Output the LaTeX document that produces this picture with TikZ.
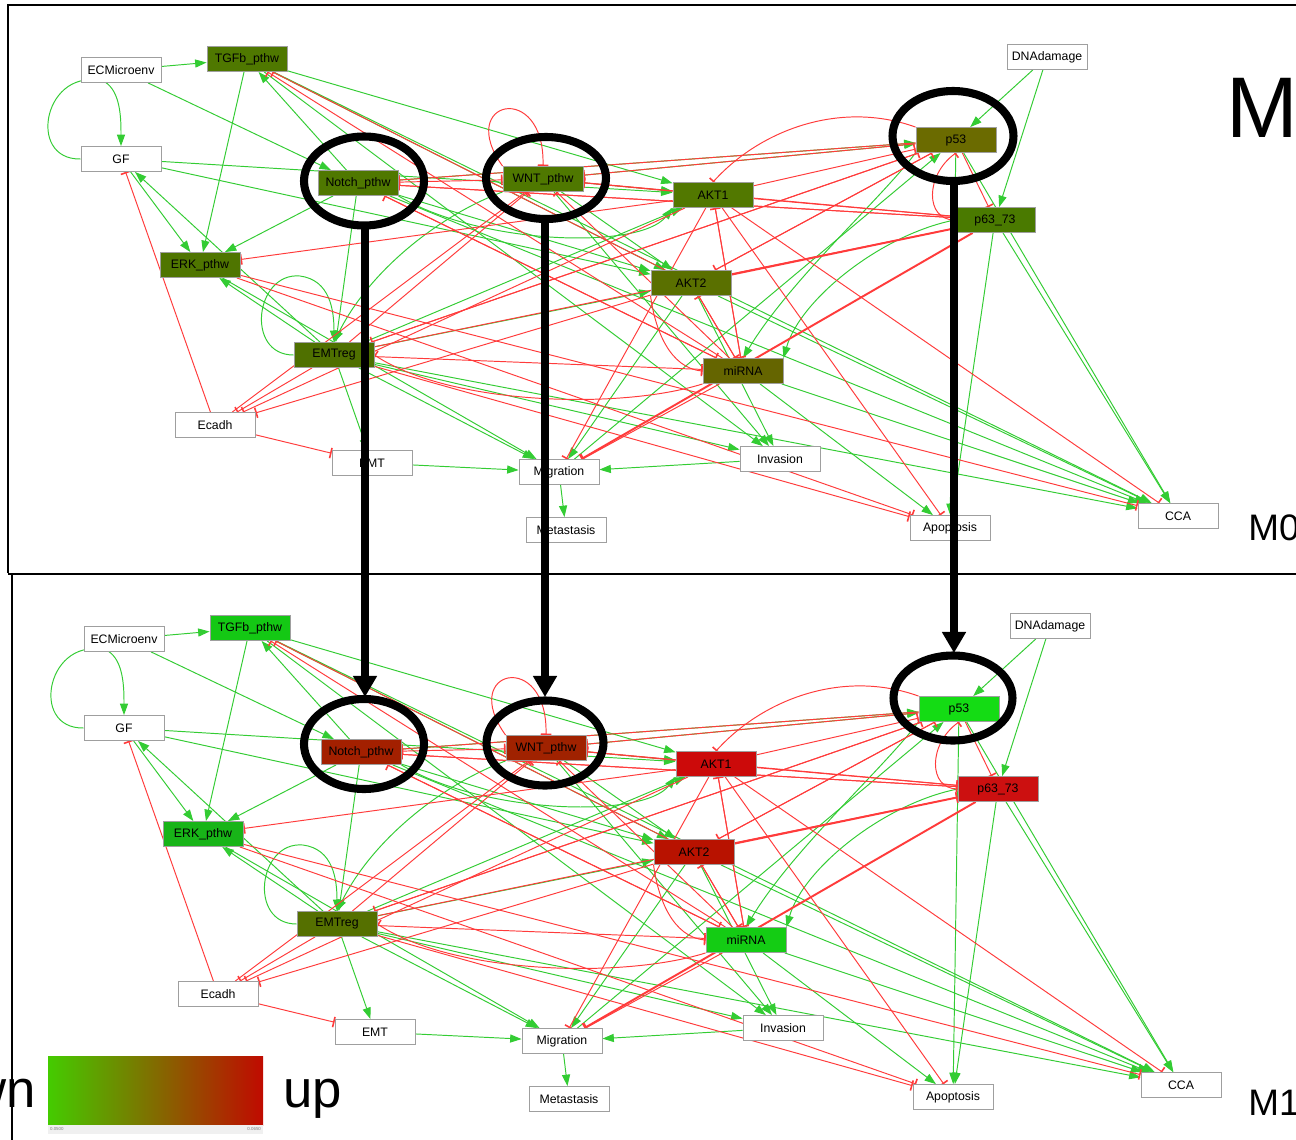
\documentclass[tikz,border=0pt]{standalone}
\usepackage{fontspec}
\setmainfont{Liberation Sans}
\usetikzlibrary{arrows.meta,calc}
\pgfdeclarelayer{bg}
\pgfdeclarelayer{edges}
\pgfsetlayers{bg,edges,main}

\definecolor{actg}{HTML}{33CC33}
\definecolor{inhr}{HTML}{FF3B3B}
% top panel node colours
\definecolor{tTGFB}{HTML}{4F7800}
\definecolor{tNOTCH}{HTML}{4F7800}
\definecolor{tWNT}{HTML}{4F7800}
\definecolor{tAKTA}{HTML}{527800}
\definecolor{tPFT}{HTML}{6B6B00}
\definecolor{tPSS}{HTML}{4A7A00}
\definecolor{tERK}{HTML}{4F7500}
\definecolor{tAKTB}{HTML}{5A7000}
\definecolor{tEMTR}{HTML}{4F7000}
\definecolor{tMIR}{HTML}{656500}
% bottom panel node colours
\definecolor{bTGFB}{HTML}{14C814}
\definecolor{bNOTCH}{HTML}{A32000}
\definecolor{bWNT}{HTML}{A02200}
\definecolor{bAKTA}{HTML}{CC0A0A}
\definecolor{bPFT}{HTML}{14DC14}
\definecolor{bPSS}{HTML}{CC1010}
\definecolor{bERK}{HTML}{18B418}
\definecolor{bAKTB}{HTML}{B81200}
\definecolor{bEMTR}{HTML}{557000}
\definecolor{bMIR}{HTML}{14CC14}
\definecolor{legg}{RGB}{68,204,0}
\definecolor{legm}{RGB}{90,122,0}
\definecolor{legr}{RGB}{192,10,0}

\tikzset{
  box/.style={draw=gray!75, line width=0.5pt, minimum width=1.6cm, minimum height=0.5cm,
    inner sep=0pt, font=\fontsize{7}{8}\selectfont},
  wbox/.style={box, fill=white},
  act/.style={draw=actg, line width=0.55pt, -{Triangle[length=6.5pt,width=4.6pt]}},
  inh/.style={draw=inhr, line width=0.55pt, -{Bar[width=6pt,line width=0.9pt]}},
  bigline/.style={line width=4.6pt, draw=black},
  bigarrow/.style={bigline, -{Triangle[length=12pt,width=13pt]}},
}

\newcommand{\netw}[1]{%
  \node[wbox] (#1ecm) at (121,70) {ECMicroenv};
  \node[box, fill=#1TGFB] (#1tgfb) at (247,59) {TGFb\_pthw};
  \node[wbox] (#1gf) at (121,159) {GF};
  \node[box, fill=#1NOTCH] (#1notch) at (358,183) {Notch\_pthw};
  \node[box, fill=#1WNT] (#1wnt) at (543,179) {WNT\_pthw};
  \node[box, fill=#1AKTA] (#1akt1) at (713,195) {AKT1};
  \node[box, fill=#1PFT] (#1p53) at (956,140) {p53};
  \node[wbox] (#1dna) at (1047,57) {DNAdamage};
  \node[box, fill=#1PSS] (#1p63) at (995,220) {p63\_73};
  \node[box, fill=#1ERK] (#1erk) at (200,265) {ERK\_pthw};
  \node[box, fill=#1AKTB] (#1akt2) at (691,283) {AKT2};
  \node[box, fill=#1EMTR] (#1emtreg) at (334,355) {EMTreg};
  \node[box, fill=#1MIR] (#1mirna) at (743,371) {miRNA};
  \node[wbox] (#1ecadh) at (215,425) {Ecadh};
  \node[wbox] (#1emt) at (372,463) {EMT};
  \node[wbox] (#1migration) at (559,472) {Migration};
  \node[wbox] (#1invasion) at (780,459) {Invasion};
  \node[wbox] (#1metastasis) at (566,530) {Metastasis};
  \node[wbox] (#1apoptosis) at (950,528) {Apoptosis};
  \node[wbox] (#1cca) at (1178,516) {CCA};
  \begin{pgfonlayer}{edges}
  % activations
  \draw[act] (#1ecm) -- (#1tgfb);
  \draw[act] (#1ecm) -- (#1notch);
  \draw[act] (#1gf.west) .. controls (25,160) and (45,64) .. (105,82) .. controls (121,92) and (121,120) .. (#1gf.north);
  \draw[act] (#1gf) -- (#1akt1);
  \draw[act] (#1gf) -- (#1akt2);
  \draw[act] (#1gf) -- (#1erk);
  \draw[act] (#1emtreg) -- (#1gf);
  \draw[act] (#1tgfb) -- (#1erk);
  \draw[act] (#1tgfb) -- (#1akt1);
  \draw[act] (#1tgfb) -- (#1akt2);
  \draw[act] (#1tgfb) -- (#1invasion);
  \draw[act] (#1tgfb) -- (#1cca);
  \draw[act] (#1notch) -- (#1tgfb);
  \draw[act] (#1notch) -- (#1erk);
  \draw[act] (#1notch) -- (#1emtreg);
  \draw[act] (#1notch.south east) .. controls (480,245) and (640,250) .. (#1akt1.south west);
  \draw[act] (#1notch) -- (#1akt2);
  \draw[act] (#1notch) -- (#1p53);
  \draw[act] (#1notch) -- (#1cca);
  \draw[act] (#1wnt) -- (#1akt1);
  \draw[act] (#1wnt) -- (#1p53);
  \draw[act] (#1wnt.south west) .. controls (440,215) and (370,270) .. (#1emtreg.north);
  \draw[act] (#1wnt) -- (#1invasion);
  \draw[act] (#1wnt) -- (#1akt2);
  \draw[act] (#1erk) -- (#1migration);
  \draw[act] (#1emtreg) -- (#1erk);
  \draw[act] (#1emtreg.west) .. controls (245,355) and (255,272) .. (300,276) .. controls (330,280) and (334,310) .. (#1emtreg.north);
  \draw[act] (#1emtreg) -- (#1akt2);
  \draw[act] (#1emtreg) -- (#1akt1);
  \draw[act] (#1emtreg) -- (#1emt);
  \draw[act] (#1emtreg) -- (#1migration);
  \draw[act] (#1emtreg) -- (#1invasion);
  \draw[act] (#1emtreg) -- (#1cca);
  \draw[act] (#1emt) -- (#1migration);
  \draw[act] (#1invasion) -- (#1migration);
  \draw[act] (#1migration) -- (#1metastasis);
  \draw[act] (#1dna) -- (#1p53);
  \draw[act] (#1dna) -- (#1p63);
  \draw[act] (#1p53.south west) .. controls (880,200) and (790,280) .. (#1mirna.north);
  \draw[act] (#1p63.west) .. controls (880,235) and (800,300) .. (#1mirna.north east);
  \draw[act] (#1p53) -- (#1apoptosis);
  \draw[act] (#1p63) -- (#1apoptosis);
  \draw[act] (#1p53) -- (#1cca);
  \draw[act] (#1p63) -- (#1cca);
  \draw[act] (#1mirna) -- (#1apoptosis);
  \draw[act] (#1mirna) -- (#1cca);
  \draw[act] (#1akt2) -- (#1migration);
  \draw[act] (#1akt2) -- (#1invasion);
  \draw[act] (#1akt2) -- (#1cca);
  \draw[act] (#1migration) -- (#1p53);
  % inhibitions
  \draw[inh] (#1mirna) -- (#1tgfb);
  \draw[inh] (#1akt2) -- (#1tgfb);
  \draw[inh] (#1p53) -- (#1notch);
  \draw[inh] (#1p63) -- (#1notch);
  \draw[inh] (#1mirna) -- (#1notch);
  \draw[inh] (#1wnt.north west) .. controls (455,100) and (545,80) .. (#1wnt.north);
  \draw[inh] (#1notch) -- (#1wnt);
  \draw[inh] (#1akt1) -- (#1wnt);
  \draw[inh] (#1p53) -- (#1wnt);
  \draw[inh] (#1mirna) -- (#1wnt);
  \draw[inh] (#1emtreg) -- (#1wnt);
  \draw[inh] (#1p63) -- (#1wnt);
  \draw[inh] (#1ecadh) -- (#1wnt);
  \draw[inh] (#1akt1) -- (#1erk);
  \draw[inh] (#1emtreg) -- (#1ecadh);
  \draw[inh] (#1akt2) -- (#1ecadh);
  \draw[inh] (#1akt1) -- (#1ecadh);
  \draw[inh] (#1ecadh) -- (#1emt);
  \draw[inh] (#1ecadh) -- (#1gf);
  \draw[inh] (#1p53) -- (#1emtreg);
  \draw[inh] (#1mirna.south west) .. controls (620,410) and (450,405) .. (#1emtreg.east);
  \draw[inh] (#1emtreg) -- (#1mirna);
  \draw[inh] (#1akt2) -- (#1mirna);
  \draw[inh] (#1akt2.south west) .. controls (655,330) and (670,368) .. (#1mirna.west);
  \draw[inh] (#1akt1) -- (#1mirna);
  \draw[inh] (#1notch) -- (#1mirna);
  \draw[inh] (#1mirna) -- (#1akt1);
  \draw[inh] (#1mirna) -- (#1akt2);
  \draw[inh] (#1p53.north west) .. controls (840,100) and (760,130) .. (#1akt1.north);
  \draw[inh] (#1p53) -- (#1akt2);
  \draw[inh] (#1akt1) -- (#1p53);
  \draw[inh] (#1akt2) -- (#1p53);
  \draw[inh] (#1emtreg) -- (#1p53);
  \draw[inh] (#1akt1) -- (#1p63);
  \draw[inh, line width=1.1pt] (#1akt2) -- (#1p63);
  \draw[inh] (#1emtreg) -- (#1p63);
  \draw[inh] (#1notch) -- (#1p63);
  \draw[inh] (#1p53) -- (#1p63);
  \draw[inh] (#1p63.west) .. controls (925,220) and (925,175) .. (#1p53.south);
  \draw[inh] (#1akt1) -- (#1migration);
  \draw[inh] (#1mirna) -- (#1migration);
  \draw[inh, line width=1.1pt] (#1p63) -- (#1migration);
  \draw[inh] (#1akt1) -- (#1apoptosis);
  \draw[inh] (#1erk) -- (#1apoptosis);
  \draw[inh] (#1emtreg) -- (#1apoptosis);
  \draw[inh] (#1akt1) -- (#1cca);
  \draw[inh] (#1erk) -- (#1cca);
  \end{pgfonlayer}
}

\begin{document}
\begin{tikzpicture}[x=0.02cm,y=-0.02cm]
\useasboundingbox (0,0) rectangle (1296,1140);
\clip (0,0) rectangle (1296,1140);
\begin{pgfonlayer}{bg}
  \fill[white] (0,0) rectangle (1296,1140);
\end{pgfonlayer}

% panel frames
\draw[line width=1.1pt] (8,573) -- (8,5) -- (1310,5);
\draw[line width=1.1pt] (8,574) -- (1310,574);
\draw[line width=1.1pt] (12,1150) -- (12,574);

\netw{t}
\begin{scope}[shift={(3,569)}]
  \netw{b}
\end{scope}

% panel labels
\node[anchor=base west, font=\fontsize{49}{50}\selectfont, inner sep=0pt] (mtop) at (1226,137) {M0};
\node[anchor=base west, font=\fontsize{21}{22}\selectfont, inner sep=0pt] (mzero) at (1248,540) {M0};
\node[anchor=base west, font=\fontsize{21}{22}\selectfont, inner sep=0pt] (mone) at (1248,1115) {M1};

% highlight ellipses and arrows
\draw[bigline] (364,181) ellipse [x radius=1.2cm, y radius=0.89cm];
\draw[bigline] (546,178) ellipse [x radius=1.2cm, y radius=0.82cm];
\draw[bigline] (953,136) ellipse [x radius=1.21cm, y radius=0.9cm];
\draw[bigline] (364,744) ellipse [x radius=1.2cm, y radius=0.9cm];
\draw[bigline] (545,743) ellipse [x radius=1.17cm, y radius=0.85cm];
\draw[bigline] (953,698) ellipse [x radius=1.19cm, y radius=0.85cm];
\coordinate (na) at (365,226);
\coordinate (nb) at (365,697);
\coordinate (wa) at (545,219);
\coordinate (wb) at (545,697);
\coordinate (pa) at (954,181);
\coordinate (pb) at (954,653);
\draw[bigarrow] (na) -- (nb);
\draw[bigarrow] (wa) -- (wb);
\draw[bigarrow] (pa) -- (pb);

% legend
\shade[left color=legg, middle color=legm, right color=legr] (48,1056) rectangle (263,1125);
\fill[gray!12] (48,1125) rectangle (263,1134);
\node[anchor=west, font=\fontsize{2.5}{3}\selectfont, inner sep=1pt, text=gray] (lo) at (48,1129) {0.0500};
\node[anchor=east, font=\fontsize{2.5}{3}\selectfont, inner sep=1pt, text=gray] (hi) at (263,1129) {0.0650};
\node[anchor=base east, font=\fontsize{30}{31}\selectfont, inner sep=0pt] (down) at (36,1107) {down};
\node[anchor=base west, font=\fontsize{30}{31}\selectfont, inner sep=0pt] (up) at (283,1107) {up};
\end{tikzpicture}
\end{document}
